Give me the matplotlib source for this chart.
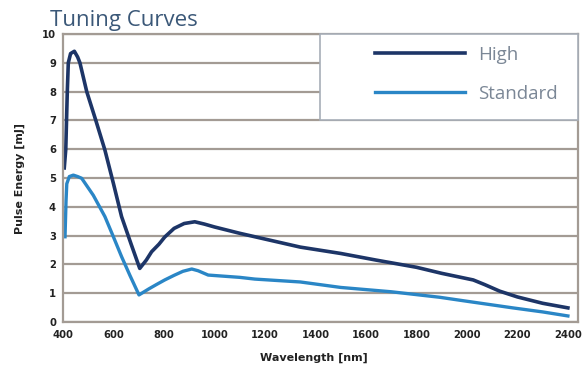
import matplotlib
matplotlib.use("Agg")
import matplotlib.pyplot as plt
from matplotlib.patches import Rectangle

# Data
high_x = [405, 411, 417, 421, 430, 445, 458, 467, 494, 530, 566, 600, 632, 670, 704,
          730, 751, 780, 803, 840, 880, 922, 960, 1000, 1100, 1200, 1340, 1500, 1640,
          1800, 1900, 2025, 2070, 2130, 2200, 2300, 2400]
high_y = [5.35, 6.0, 8.0, 9.0, 9.32, 9.4, 9.2, 9.0, 8.0, 7.0, 5.97, 4.8, 3.66, 2.7, 1.86,
          2.15, 2.44, 2.7, 2.95, 3.25, 3.42, 3.48, 3.4, 3.3, 3.08, 2.88, 2.6, 2.38, 2.15,
          1.9, 1.69, 1.46, 1.3, 1.07, 0.87, 0.65, 0.49]
std_x = [408, 412, 415, 425, 441, 458, 474, 520, 566, 600, 632, 665, 701, 740, 770,
         803, 840, 875, 910, 935, 975, 1100, 1160, 1340, 1500, 1700, 1891, 2000, 2182,
         2300, 2400]
std_y = [2.96, 4.2, 4.8, 5.05, 5.1, 5.05, 4.99, 4.4, 3.66, 2.95, 2.27, 1.62, 0.94, 1.15,
         1.3, 1.46, 1.62, 1.76, 1.84, 1.78, 1.63, 1.55, 1.49, 1.39, 1.2, 1.05, 0.86,
         0.72, 0.49, 0.35, 0.21]
x_ticks = [400, 600, 800, 1000, 1200, 1400, 1600, 1800, 2000, 2200, 2400]
y_ticks = list(range(0, 11))
series_names = ["High", "Standard"]

W, H = 582, 369
fig = plt.figure(figsize=(W / 100, H / 100), dpi=100)
ax = fig.add_axes([63 / W, 1 - 322 / H, (578 - 63) / W, (322 - 34) / H])

grid_c = "#a39b94"
ax.set_xlim(400, 2440)
ax.set_ylim(0, 10)
ax.set_xticks(x_ticks)
ax.set_yticks(y_ticks)
ax.yaxis.grid(True, color=grid_c, linewidth=1.6)
ax.set_axisbelow(True)
for s in ax.spines.values():
    s.set_color(grid_c)
    s.set_linewidth(1.6)
ax.tick_params(length=0, labelsize=7.2)
ax.tick_params(axis="y", pad=5)
ax.tick_params(axis="x", pad=6)
for lbl in ax.get_xticklabels() + ax.get_yticklabels():
    lbl.set_fontweight("bold")
    lbl.set_color("#222222")

l1, = ax.plot(high_x, high_y, color="#1d3567", linewidth=2.6, solid_joinstyle="round")
l2, = ax.plot(std_x, std_y, color="#2a86c6", linewidth=2.4, solid_joinstyle="round")

ax.set_xlabel("Wavelength [nm]", fontsize=8, fontweight="bold", color="#222222")
ax.set_ylabel("Pulse Energy [mJ]", fontsize=8, fontweight="bold", labelpad=12, color="#222222")
ax.xaxis.set_label_coords((314 - 63) / (578 - 63), -(353 - 322) / (322 - 34))

# Legend box
ax.add_patch(Rectangle((320 / W, 1 - 120 / H), (578 - 320) / W, (120 - 34) / H,
                       transform=fig.transFigure, facecolor="white",
                       edgecolor="#a7aeb8", linewidth=1.2, zorder=10, clip_on=False))
leg = ax.legend([l1, l2], series_names, loc="upper left",
                bbox_to_anchor=(375 / W, 1 - 46 / H), bbox_transform=fig.transFigure,
                frameon=False, borderpad=0, borderaxespad=0,
                handlelength=4.8, handletextpad=0.72, labelspacing=1.1,
                prop={"family": "Open Sans", "size": 13.5})
leg.set_zorder(11)
for t in leg.get_texts():
    t.set_color("#7b8796")

fig.text(50 / W, 1 - 26 / H, "Tuning Curves", fontsize=16, color="#3b5878",
         family="Open Sans", ha="left", va="baseline")

fig.savefig("out.png", dpi=100, facecolor="white")
